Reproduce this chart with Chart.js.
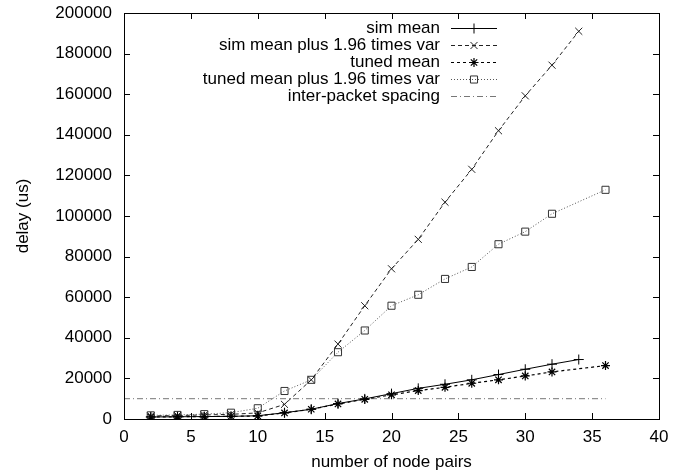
<!DOCTYPE html>
<html>
<head>
    <title>Delay vs node pairs</title>
    <script src="https://cdn.jsdelivr.net/npm/chart.js"></script>
    <style>
        body {
            margin: 0;
            background-color: white;
        }
        #wrap {
            width: 684px;
            height: 473px;
        }
    </style>
</head>
<body>
    <div id="wrap">
        <canvas id="delayChart"></canvas>
    </div>

    <script>
    // values
    const simX = [2, 4, 6, 8, 10, 12, 14, 16, 18, 20, 22, 24, 26, 28, 30, 32, 34];
    const simMean = [1000, 1100, 1200, 1300, 1600, 3100, 4800, 7600, 9900, 12500, 15100, 17100, 19300, 21900, 24500, 27000, 29300];
    const simMeanVar = [1500, 1700, 2000, 2300, 3000, 7200, 19300, 36900, 55800, 74000, 88500, 106800, 123000, 142000, 159200, 174300, 191000];

    const tunedX = [2, 4, 6, 8, 10, 12, 14, 16, 18, 20, 22, 24, 26, 28, 30, 32, 36];
    const tunedMean = [1000, 1100, 1200, 1300, 1500, 3000, 4800, 7400, 9700, 11900, 14000, 15600, 17600, 19300, 21200, 23200, 26300];
    const tunedMeanVar = [1800, 2000, 2400, 3100, 5300, 13800, 19300, 32900, 43600, 55800, 61200, 69000, 74900, 86100, 92300, 101100, 112900];

    const spacingX = [0, 36];
    const spacingY = [10000, 10000];

    const xTicks = [0, 5, 10, 15, 20, 25, 30, 35, 40];
    const yTicks = [0, 20000, 40000, 60000, 80000, 100000, 120000, 140000, 160000, 180000, 200000];

    function toPoints(xs, ys) {
        return xs.map((x, i) => ({ x: x, y: ys[i] }));
    }

    const fontFamily = '"Liberation Sans", Arial, sans-serif';
    const fontSize = 17;

    // gnuplot style frame with inward ticks on all four sides
    const framePlugin = {
        id: 'frame',
        afterDatasetsDraw(chart) {
            const ctx = chart.ctx;
            const a = chart.chartArea;
            const xs = chart.scales.x;
            const ys = chart.scales.y;
            const len = 6;
            ctx.save();
            ctx.strokeStyle = '#000';
            ctx.lineWidth = 1;
            ctx.setLineDash([]);
            ctx.beginPath();
            xTicks.forEach(v => {
                const px = Math.round(xs.getPixelForValue(v)) + 0.5;
                ctx.moveTo(px, a.bottom);
                ctx.lineTo(px, a.bottom - len);
                ctx.moveTo(px, a.top);
                ctx.lineTo(px, a.top + len);
            });
            yTicks.forEach(v => {
                const py = Math.round(ys.getPixelForValue(v)) + 0.5;
                ctx.moveTo(a.left, py);
                ctx.lineTo(a.left + len, py);
                ctx.moveTo(a.right, py);
                ctx.lineTo(a.right - len, py);
            });
            ctx.stroke();
            ctx.strokeRect(Math.round(a.left) + 0.5, Math.round(a.top) + 0.5,
                Math.round(a.right - a.left), Math.round(a.bottom - a.top));
            ctx.restore();
        }
    };

    // legend in the top right corner: text right aligned, sample to its right
    const keyPlugin = {
        id: 'key',
        afterDraw(chart) {
            const ctx = chart.ctx;
            const a = chart.chartArea;
            const sampleRight = a.right - 162;
            const sampleLeft = sampleRight - 46;
            const textRight = sampleLeft - 11;
            ctx.save();
            ctx.font = fontSize + 'px ' + fontFamily;
            ctx.textAlign = 'right';
            ctx.textBaseline = 'middle';
            chart.data.datasets.forEach((ds, i) => {
                const y = a.top + 15 + i * 17;
                ctx.fillStyle = '#000';
                ctx.fillText(ds.label, textRight, y);
                ctx.strokeStyle = ds.borderColor;
                ctx.lineWidth = ds.borderWidth;
                ctx.setLineDash(ds.borderDash || []);
                ctx.beginPath();
                ctx.moveTo(sampleLeft, y + 0.5);
                ctx.lineTo(sampleRight, y + 0.5);
                ctx.stroke();
                ctx.setLineDash([]);
                if (ds.pointRadius > 0) {
                    ctx.fillStyle = 'rgba(0,0,0,0)';
                    ctx.strokeStyle = ds.pointBorderColor;
                    ctx.lineWidth = ds.pointBorderWidth;
                    Chart.helpers.drawPoint(ctx, {
                        pointStyle: ds.pointStyle,
                        radius: ds.pointRadius,
                        rotation: 0,
                        borderWidth: ds.pointBorderWidth
                    }, (sampleLeft + sampleRight) / 2, y + 0.5);
                }
            });
            ctx.restore();
        }
    };

    const ctx = document.getElementById('delayChart').getContext('2d');
    new Chart(ctx, {
        type: 'line',
        data: {
            datasets: [
                {
                    label: 'sim mean',
                    data: toPoints(simX, simMean),
                    borderColor: '#000',
                    borderWidth: 1,
                    pointStyle: 'cross',
                    pointRadius: 5,
                    pointBorderColor: '#000',
                    pointBorderWidth: 1
                },
                {
                    label: 'sim mean plus 1.96 times var',
                    data: toPoints(simX, simMeanVar),
                    borderColor: '#222',
                    borderWidth: 1,
                    borderDash: [4, 3],
                    pointStyle: 'crossRot',
                    pointRadius: 5,
                    pointBorderColor: '#222',
                    pointBorderWidth: 1
                },
                {
                    label: 'tuned mean',
                    data: toPoints(tunedX, tunedMean),
                    borderColor: '#000',
                    borderWidth: 1.2,
                    borderDash: [3, 3],
                    pointStyle: 'star',
                    pointRadius: 4.5,
                    pointBorderColor: '#000',
                    pointBorderWidth: 1.2
                },
                {
                    label: 'tuned mean plus 1.96 times var',
                    data: toPoints(tunedX, tunedMeanVar),
                    borderColor: '#555',
                    borderWidth: 1,
                    borderDash: [1, 2],
                    pointStyle: 'rect',
                    pointRadius: 5,
                    pointBackgroundColor: 'rgba(0,0,0,0)',
                    pointBorderColor: '#333',
                    pointBorderWidth: 1
                },
                {
                    label: 'inter-packet spacing',
                    data: toPoints(spacingX, spacingY),
                    borderColor: '#777',
                    borderWidth: 1,
                    borderDash: [6, 3, 1, 3],
                    pointRadius: 0,
                    pointBorderWidth: 0
                }
            ]
        },
        options: {
            responsive: true,
            maintainAspectRatio: false,
            animation: false,
            layout: {
                padding: { top: 13, right: 25, left: 0, bottom: 0 }
            },
            plugins: {
                legend: { display: false },
                tooltip: { enabled: false }
            },
            elements: {
                line: { tension: 0, fill: false }
            },
            scales: {
                x: {
                    type: 'linear',
                    min: 0,
                    max: 40,
                    afterFit(scale) {
                        scale.height = 54;
                        scale.paddingLeft = 0;
                        scale.paddingRight = 0;
                    },
                    afterBuildTicks(scale) { scale.ticks = xTicks.map(v => ({ value: v })); },
                    grid: { display: false, drawTicks: false },
                    border: { display: false },
                    ticks: {
                        color: '#000',
                        font: { family: fontFamily, size: fontSize },
                        padding: 8,
                        maxRotation: 0,
                        callback: v => String(v)
                    },
                    title: {
                        display: true,
                        text: 'number of node pairs',
                        color: '#000',
                        font: { family: fontFamily, size: fontSize },
                        padding: { top: 3, bottom: 0 }
                    }
                },
                y: {
                    type: 'linear',
                    min: 0,
                    max: 200000,
                    afterFit(scale) {
                        scale.width = 124;
                        scale.paddingTop = 0;
                        scale.paddingBottom = 0;
                    },
                    afterBuildTicks(scale) { scale.ticks = yTicks.map(v => ({ value: v })); },
                    grid: { display: false, drawTicks: false },
                    border: { display: false },
                    ticks: {
                        color: '#000',
                        font: { family: fontFamily, size: fontSize },
                        padding: 12,
                        callback: v => String(v)
                    },
                    title: {
                        display: true,
                        text: 'delay (us)',
                        color: '#000',
                        font: { family: fontFamily, size: fontSize },
                        padding: { top: 13, bottom: 0 }
                    }
                }
            }
        },
        plugins: [framePlugin, keyPlugin]
    });
    </script>
</body>
</html>
